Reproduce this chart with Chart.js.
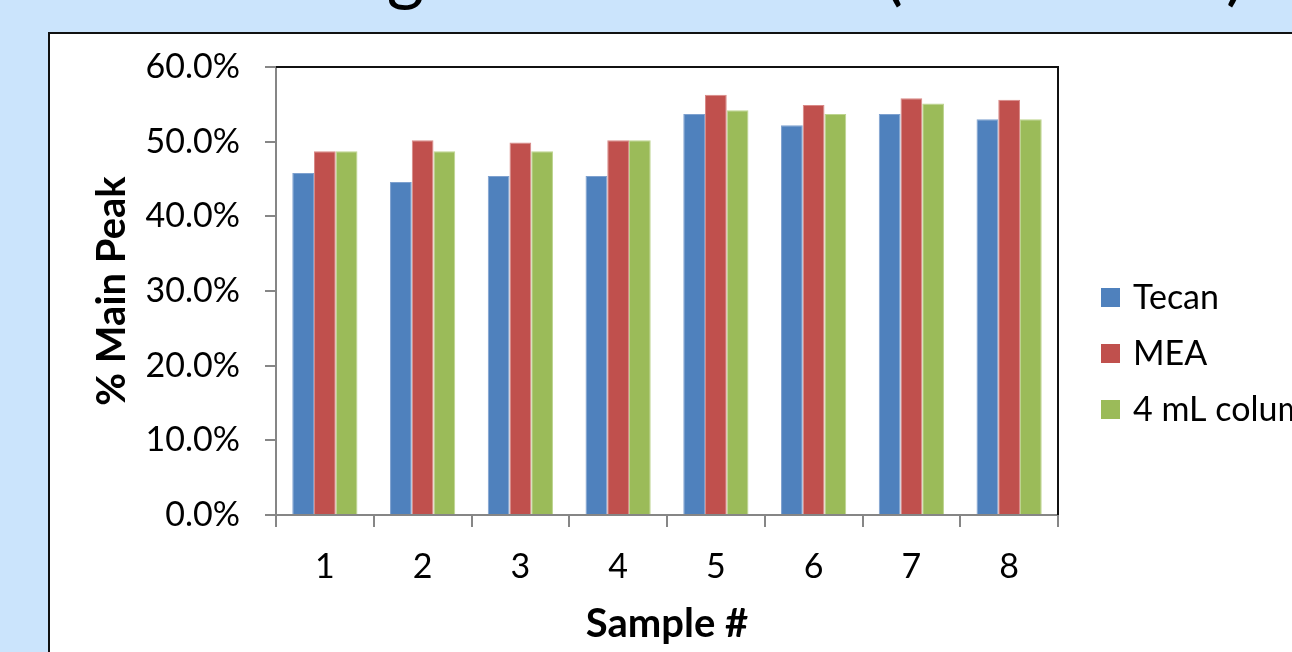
<!DOCTYPE html>
<html>
<head>
<meta charset="utf-8">
<script src="https://cdn.jsdelivr.net/npm/chart.js@4/dist/chart.umd.min.js"></script>
<style>
  html, body { margin: 0; padding: 0; }
  body { width: 1292px; height: 652px; overflow: hidden; background: #cbe4fc; position: relative; font-family: Lato, "Open Sans", sans-serif; }
  #heading { position: absolute; left: 126px; top: -74px; font-size: 72px; line-height: 86px; color: #000; white-space: nowrap; word-spacing: 9px; }
  #heading span { word-spacing: -6px; }
  #panel { position: absolute; left: 48px; top: 32px; width: 1300px; height: 700px; background: #fff; border-top: 2px solid #111; border-left: 2px solid #111; }
  #chart { position: absolute; left: 0; top: 0; }
</style>
</head>
<body>
<div id="heading">Desalting Method Test <span>(Main Peak)</span></div>
<div id="panel"></div>
<canvas id="chart" width="1292" height="652"></canvas>
<script>
// Sample numbers along the x axis
const samples = ['1', '2', '3', '4', '5', '6', '7', '8'];

// % main peak per sample, one array per preparation method
const tecan  = [45.8, 44.6, 45.4, 45.4, 53.7, 52.2, 53.7, 53.0];
const mea    = [48.7, 50.2, 49.9, 50.2, 56.3, 54.9, 55.8, 55.6];
const column = [48.7, 48.7, 48.7, 50.2, 54.2, 53.7, 55.1, 53.0];

const seriesNames = ['Tecan', 'MEA', '4 mL column'];
const yTicks = [0, 10, 20, 30, 40, 50, 60];

const FONT = 'Lato, "Open Sans", sans-serif';
const AXIS_GREY = '#868686';

// Plot-area frame on the top and right edges
const frame = {
  id: 'frame',
  afterDatasetsDraw(chart) {
    const { ctx, chartArea: a } = chart;
    ctx.save();
    ctx.strokeStyle = '#111';
    ctx.lineWidth = 2;
    ctx.beginPath();
    ctx.moveTo(a.left, a.top);
    ctx.lineTo(a.right, a.top);
    ctx.lineTo(a.right, a.bottom);
    ctx.stroke();
    ctx.restore();
  }
};

// Legend stacked on the right-hand side
const sideLegend = {
  id: 'sideLegend',
  afterDraw(chart) {
    const { ctx } = chart;
    const x = 1101, y0 = 288, gap = 56, box = 19;
    ctx.save();
    ctx.font = '34px ' + FONT;
    ctx.textBaseline = 'middle';
    ctx.textAlign = 'left';
    chart.data.datasets.forEach((ds, i) => {
      const y = y0 + i * gap;
      ctx.fillStyle = ds.backgroundColor;
      ctx.fillRect(x, y, box, box);
      ctx.fillStyle = '#000';
      ctx.fillText(ds.label, 1133, y + box / 2 + 1);
    });
    ctx.restore();
  }
};

new Chart(document.getElementById('chart'), {
  type: 'bar',
  data: {
    labels: samples,
    datasets: [
      { label: seriesNames[0], data: tecan,  backgroundColor: '#4f81bd', borderColor: '#7ea1cf', borderWidth: 1 },
      { label: seriesNames[1], data: mea,    backgroundColor: '#c0504d', borderColor: '#d98886', borderWidth: 1 },
      { label: seriesNames[2], data: column, backgroundColor: '#9bbb59', borderColor: '#bdd48f', borderWidth: 1 }
    ]
  },
  options: {
    responsive: false,
    animation: false,
    devicePixelRatio: 1,
    categoryPercentage: 0.667,
    barPercentage: 1,
    layout: { padding: { left: 0, top: 67, right: 234, bottom: 0 } },
    plugins: {
      legend: { display: false },
      tooltip: { enabled: false }
    },
    scales: {
      x: {
        afterFit(scale) { scale.height = 137; },
        grid: { drawOnChartArea: false, drawTicks: true, tickLength: 12, color: AXIS_GREY, lineWidth: 2, offset: true },
        border: { color: AXIS_GREY, width: 2 },
        ticks: { color: '#000', font: { family: FONT, size: 34 }, padding: 20 },
        title: { display: true, text: 'Sample #', color: '#000', font: { family: FONT, size: 40, weight: 'bold' }, padding: { top: 4, bottom: 4 } }
      },
      y: {
        min: 0,
        max: 60,
        afterFit(scale) { scale.width = 276; },
        afterBuildTicks(scale) { scale.ticks = yTicks.map(v => ({ value: v })); },
        grid: { drawOnChartArea: false, drawTicks: true, tickLength: 11, color: AXIS_GREY, lineWidth: 2 },
        border: { color: AXIS_GREY, width: 2 },
        ticks: { color: '#000', font: { family: FONT, size: 34 }, padding: 25, callback: v => v.toFixed(1) + '%' },
        title: { display: true, text: '% Main Peak', color: '#000', font: { family: FONT, size: 40, weight: 'bold' }, padding: { top: 88, bottom: 0 } }
      }
    }
  },
  plugins: [frame, sideLegend]
});
</script>
</body>
</html>
